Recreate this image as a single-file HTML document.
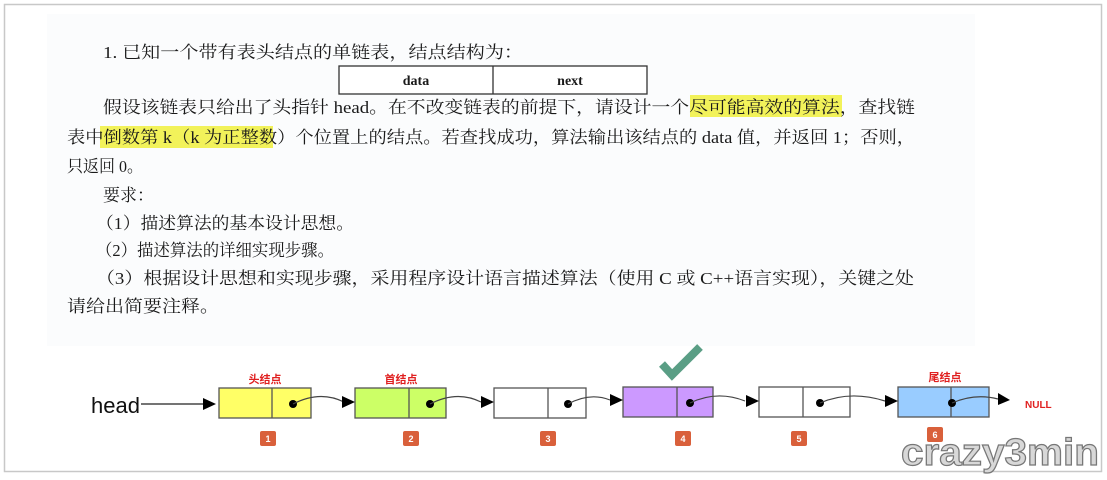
<!DOCTYPE html>
<html><head><meta charset="utf-8"><style>
html,body{margin:0;padding:0;background:#fff;}
svg{display:block;}
.t{font-family:"Liberation Serif","Noto Serif CJK SC",serif;font-size:17px;fill:#1a1a1a;}
</style></head><body>
<svg width="1107" height="480" viewBox="0 0 1107 480" xmlns="http://www.w3.org/2000/svg">
<rect x="0" y="0" width="1107" height="480" fill="#fff"/>
<rect x="4.5" y="4.5" width="1097" height="467" fill="#fff" stroke="#c8c8c8" stroke-width="1.5"/>
<rect x="47" y="14" width="928" height="332" fill="#fbfcfd"/>
<rect x="690" y="95" width="152" height="22" fill="#f2f25a"/>
<rect x="100" y="126" width="173" height="22" fill="#f2f25a"/>
<g class="t">
<text x="103" y="58" textLength="420" lengthAdjust="spacingAndGlyphs">1. 已知一个带有表头结点的单链表，结点结构为：</text>
<text x="103" y="113" textLength="812" lengthAdjust="spacingAndGlyphs">假设该链表只给出了头指针 head。在不改变链表的前提下，请设计一个尽可能高效的算法，查找链</text>
<text x="67" y="143" textLength="848" lengthAdjust="spacingAndGlyphs">表中倒数第 k（k 为正整数）个位置上的结点。若查找成功，算法输出该结点的 data 值，并返回 1；否则，</text>
<text x="67" y="172" textLength="76" lengthAdjust="spacingAndGlyphs">只返回 0。</text>
<text x="103" y="201">要求：</text>
<text x="96" y="229" textLength="258" lengthAdjust="spacingAndGlyphs">（1）描述算法的基本设计思想。</text>
<text x="96" y="256" textLength="238" lengthAdjust="spacingAndGlyphs">（2）描述算法的详细实现步骤。</text>
<text x="96" y="284" textLength="818" lengthAdjust="spacingAndGlyphs">（3）根据设计思想和实现步骤，采用程序设计语言描述算法（使用 C 或 C++语言实现），关键之处</text>
<text x="67" y="312" textLength="152" lengthAdjust="spacingAndGlyphs">请给出简要注释。</text>
</g>
<rect x="339" y="66" width="308" height="28" fill="#fff" stroke="#333" stroke-width="1.3"/>
<line x1="493" y1="66" x2="493" y2="94" stroke="#333" stroke-width="1.3"/>
<text x="416" y="85" text-anchor="middle" class="t" style="font-size:14px;font-weight:bold">data</text>
<text x="570" y="85" text-anchor="middle" class="t" style="font-size:14px;font-weight:bold">next</text>

<text x="91" y="413" font-family="Liberation Sans,sans-serif" font-size="22" fill="#111">head</text>
<line x1="141" y1="404" x2="203" y2="404" stroke="#222" stroke-width="1.2"/>
<polygon points="203,398 216,404 203,410" fill="#000"/>
<g stroke="#555" stroke-width="1.3">
<rect x="219" y="388" width="92" height="30" fill="#ffff66"/><line x1="272" y1="388" x2="272" y2="418"/>
<rect x="355" y="388" width="91" height="30" fill="#ccff66"/><line x1="409" y1="388" x2="409" y2="418"/>
<rect x="494" y="388" width="92" height="30" fill="#fff"/><line x1="548" y1="388" x2="548" y2="418"/>
<rect x="623" y="387" width="90" height="30" fill="#cc99ff"/><line x1="677" y1="387" x2="677" y2="417"/>
<rect x="759" y="387" width="91" height="30" fill="#fff"/><line x1="803" y1="387" x2="803" y2="417"/>
<rect x="898" y="387" width="91" height="30" fill="#99ccff"/><line x1="951" y1="387" x2="951" y2="417"/>
</g>
<g fill="#000">
<circle cx="293" cy="404" r="4"/><circle cx="430" cy="404" r="4"/><circle cx="568" cy="404" r="4"/>
<circle cx="690" cy="403" r="4"/><circle cx="820" cy="403" r="4"/><circle cx="952" cy="403" r="4"/>
</g>
<g fill="none" stroke="#444" stroke-width="1.2">
<path d="M293 404 Q320 390 344 402"/><path d="M430 404 Q457 390 481 402"/>
<path d="M568 404 Q590 392 610 400"/><path d="M690 403 Q717 390 745 401"/>
<path d="M820 403 Q850 390 885 401"/><path d="M952 403 Q975 393 998 399"/>
</g>
<g fill="#000">
<polygon points="342,396 355,402 342,408"/><polygon points="481,396 494,402 481,408"/>
<polygon points="610,394 623,400 610,406"/><polygon points="746,395 759,401 746,407"/>
<polygon points="885,395 898,401 885,407"/><polygon points="998,393 1010,400 998,405"/>
</g>
<g font-family="Liberation Sans,'Noto Sans CJK SC',sans-serif" font-weight="bold" fill="#e02020">
<text x="265" y="383" font-size="11" text-anchor="middle">头结点</text>
<text x="401" y="383" font-size="11" text-anchor="middle">首结点</text>
<text x="945" y="381" font-size="11" text-anchor="middle">尾结点</text>
<text x="1025" y="408" font-size="10">NULL</text>
</g>
<polyline points="662,364 672,375 700,347" fill="none" stroke="#5a9e85" stroke-width="8"/>
<g fill="#d9603b">
<rect x="260" y="431" width="16" height="15" rx="2"/><rect x="403" y="431" width="16" height="15" rx="2"/>
<rect x="540" y="431" width="16" height="15" rx="2"/><rect x="675" y="431" width="16" height="15" rx="2"/>
<rect x="791" y="431" width="16" height="15" rx="2"/><rect x="927" y="427" width="16" height="15" rx="2"/>
</g>
<g fill="#fff" font-family="Liberation Sans,sans-serif" font-size="9" font-weight="bold" text-anchor="middle">
<text x="268" y="442">1</text><text x="411" y="442">2</text><text x="548" y="442">3</text>
<text x="683" y="442">4</text><text x="799" y="442">5</text><text x="935" y="438">6</text>
</g>
<text x="901" y="465" font-family="Liberation Sans,sans-serif" font-size="38" font-weight="bold" fill="#d8d8d8" stroke="#777" stroke-width="1.2" textLength="198" lengthAdjust="spacingAndGlyphs">crazy3min</text>
</svg>
</body></html>
